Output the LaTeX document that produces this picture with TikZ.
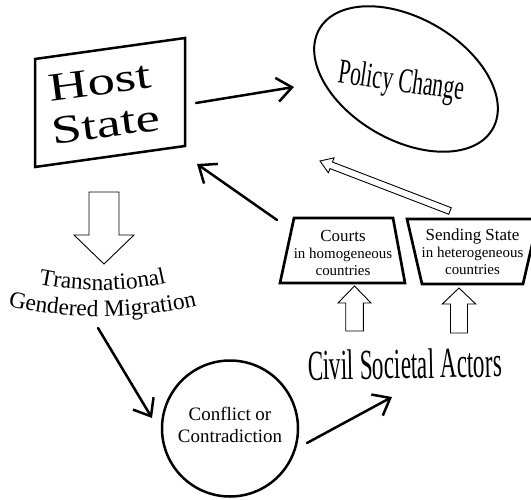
\documentclass[tikz,border=0pt]{standalone}
\usepackage{graphicx}
\usepackage{fontspec}
\setmainfont{Liberation Serif}
\newfontfamily\hostfont[FakeStretch=1.37]{Liberation Serif}
\newcommand\tgmfont{\fontsize{23.5}{28}\selectfont}
\usetikzlibrary{arrows.meta,calc,decorations.text,shapes.geometric}
% tail, tip, shaft half width, head half width, head length
\newcommand\hollowarrow[5]{%
  \coordinate (ha-b) at ($(#2)!#5!(#1)$);
  \draw[hollow] ($(#1)!#3!90:(#2)$) -- ($(ha-b)!#3!90:(#2)$) -- ($(ha-b)!#4!90:(#2)$)
    -- (#2) -- ($(ha-b)!#4!-90:(#2)$) -- ($(ha-b)!#3!-90:(#2)$) -- ($(#1)!#3!-90:(#2)$) -- cycle;
}
\tikzset{
  barb/.style={line width=2.5bp, -{Straight Barb[length=15bp,width=24bp]}, line cap=round, line join=round},
  hollow/.style={draw=black, fill=white, line width=0.9bp, line join=miter},
  box/.style={draw=black, line width=2.7bp, line join=miter},
  smalltext/.style={align=center, inner sep=0pt, font=\fontsize{15}{17}\selectfont},
}
\begin{document}
\begin{tikzpicture}[x=1bp,y=-1bp]
\useasboundingbox (0,0) rectangle (531,500);

% Host State
\draw[box, line width=2.5bp] (35,59) -- (185,38) -- (185,146) -- (35,167) -- cycle;
\node[font=\hostfont\fontsize{40}{43}\selectfont, align=center, rotate=7.5, inner sep=0pt] (host) at (103,103) {Host\\State};

% Policy Change
\node[ellipse, draw, line width=2bp, minimum width=200bp, minimum height=122bp, rotate=-30, inner sep=0pt] (policy) at (406,79) {};
\node[font=\fontsize{35}{35}\selectfont, rotate=-8, anchor=base, inner sep=0pt] (policytext) at (400,91.5) {\scalebox{0.62}[1]{Policy Change}};

% Courts
\draw[box] (294,218) -- (393,218) -- (405,283) -- (280,283) -- cycle;
\node[smalltext] (courts) at (343,253) {{\fontsize{17}{17}\selectfont Courts}\\in homogeneous\\countries};

% Sending State
\draw[box] (407,219) -- (538,219) -- (523,284) -- (422,284) -- cycle;
\node[smalltext] (sending) at (472.5,252) {{\fontsize{17}{17}\selectfont Sending State}\\in heterogeneous\\countries};

% Civil Societal Actors
\node[font=\fontsize{43}{43}\selectfont, rotate=1, anchor=base, inner sep=0pt] (civil) at (405,378.5) {\scalebox{0.54}[1]{Civil Societal Actors}};

% Conflict
\node[circle, draw, line width=2.5bp, minimum size=136bp, inner sep=0pt] (conflict) at (230,428.5) {};
\node[align=center, font=\fontsize{19}{22}\selectfont, inner sep=0pt] (conflicttext) at (230,424.5) {Conflict or\\Contradiction};

% Transnational Gendered Migration
\path[decorate, decoration={text along path, text align=center, text={|\tgmfont|Transnational}}]
  (30,282) .. controls (75,293) and (130,293) .. (175,281);
\path[decorate, decoration={text along path, text align=center, text={|\tgmfont|Gendered Migration}}]
  (0,304) .. controls (65,320.5) and (140,320.5) .. (205,304);

% connector end points
\coordinate (host-out) at (196,103);
\coordinate (policy-in) at (294,87);
\coordinate (courts-out) at (277,220);
\coordinate (host-in) at (197,164);
\coordinate (tgm-out) at (98,328);
\coordinate (conflict-in) at (152,418);
\coordinate (conflict-out) at (307,443);
\coordinate (civil-in) at (392,397);
\coordinate (host-down) at (104,192);
\coordinate (tgm-in) at (104,264);
\coordinate (civil-up1) at (354.5,331);
\coordinate (courts-in) at (354.5,286);
\coordinate (civil-up2) at (459,333);
\coordinate (sending-in) at (459,288);
\coordinate (sending-out) at (450,211);
\coordinate (policy-in2) at (320,161);

% connectors
\draw[barb] (host-out) -- (policy-in);
\draw[barb] (courts-out) -- (host-in);
\draw[barb] (tgm-out) -- (conflict-in);
\draw[barb] (conflict-out) -- (civil-in);

\hollowarrow{host-down}{tgm-in}{15bp}{30bp}{29bp}
\hollowarrow{civil-up1}{courts-in}{8.8bp}{16.5bp}{17bp}
\hollowarrow{civil-up2}{sending-in}{8.5bp}{16.7bp}{16bp}
\hollowarrow{sending-out}{policy-in2}{3.5bp}{8bp}{12bp}
\end{tikzpicture}
\end{document}
